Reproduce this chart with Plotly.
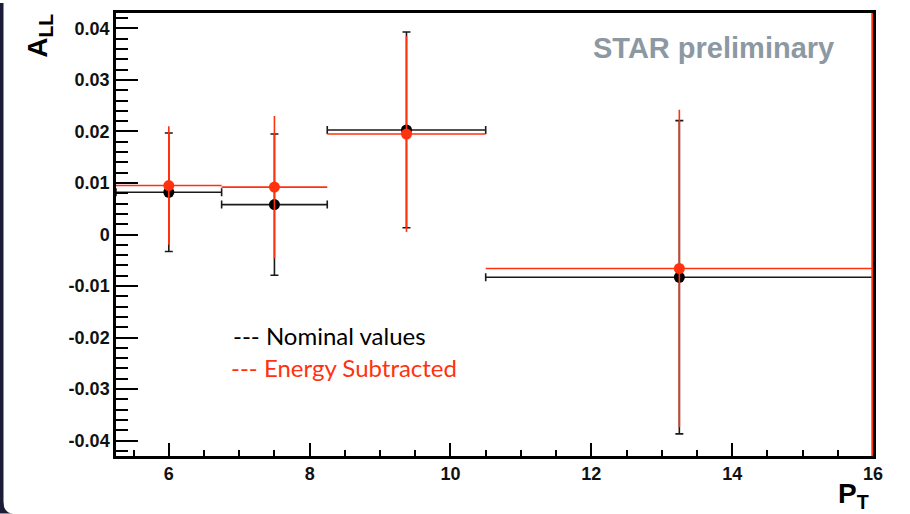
import plotly.graph_objects as go

# Bin centres and half-widths in P_T
pt = [6.0, 7.5, 9.375, 13.25]
pt_halfwidth = [0.75, 0.75, 1.125, 2.75]

# A_LL, nominal values
all_nominal = [0.0082, 0.0058, 0.0203, -0.0083]
err_nominal = [0.0115, 0.0137, 0.0190, 0.0304]

# A_LL, energy subtracted
all_esub = [0.0095, 0.0092, 0.0195, -0.0066]
err_esub = [0.0115, 0.0138, 0.0190, 0.0308]

x_tickvals = [6, 8, 10, 12, 14, 16]
x_ticktext = ["6", "8", "10", "12", "14", "16"]
y_tickvals = [-0.04, -0.03, -0.02, -0.01, 0, 0.01, 0.02, 0.03, 0.04]
y_ticktext = ["-0.04", "-0.03", "-0.02", "-0.01", "0", "0.01", "0.02", "0.03", "0.04"]

W, H = 910, 514
L, R, T, B = 116, 873, 10, 456
RED = "#ff3210"
BLACK = "#1a1a1a"
NAVY = "#1c1c38"


def px(x):
    return (x - L) / (R - L)


def py(y):
    return (B - y) / (B - T)


fig = go.Figure()

fig.add_trace(go.Scatter(
    x=pt, y=all_nominal, mode="markers",
    marker=dict(color="black", size=11),
    error_x=dict(type="data", array=pt_halfwidth, color=BLACK, thickness=1.6, width=4),
    error_y=dict(type="data", array=err_nominal, color=BLACK, thickness=1.6, width=4),
    name="Nominal values", showlegend=False,
))
fig.add_trace(go.Scatter(
    x=pt, y=all_esub, mode="markers",
    marker=dict(color=RED, size=11),
    error_x=dict(type="data", array=pt_halfwidth, color=RED, thickness=1.6, width=0),
    error_y=dict(type="data", array=err_esub, color=RED, thickness=1.6, width=0),
    name="Energy Subtracted", showlegend=False,
))

tickfont = dict(family="Liberation Sans, Arial", size=18, color="#111", weight="bold")

fig.update_xaxes(
    range=[5.25, 16], tickvals=x_tickvals, ticktext=x_ticktext,
    ticks="inside", ticklen=13, tickwidth=1.5, tickcolor="black",
    minor=dict(dtick=0.5, ticks="inside", ticklen=6, tickwidth=1.5, tickcolor="black"),
    showline=True, linecolor="black", linewidth=2.5, mirror=True,
    showgrid=False, zeroline=False, tickfont=tickfont,
)
fig.update_yaxes(
    range=[-0.043, 0.043], tickvals=y_tickvals, ticktext=y_ticktext,
    ticks="inside", ticklen=22, tickwidth=1.5, tickcolor="black",
    minor=dict(dtick=0.002, ticks="inside", ticklen=12, tickwidth=1.5, tickcolor="black"),
    showline=True, linecolor="black", linewidth=2.5, mirror=True,
    showgrid=False, zeroline=False, tickfont=tickfont,
)

shapes = [
    # red frame edge on the right side
    dict(type="line", xref="paper", yref="paper", x0=px(872.2), x1=px(872.2), y0=0, y1=1,
         line=dict(color=RED, width=1.8), layer="above"),
    # dark slide border with rounded lower-left corner
    dict(type="path", xref="paper", yref="paper", fillcolor=NAVY, line=dict(width=0),
         path=(f"M {px(0)},{py(0)} L {px(3.5)},{py(0)} L {px(3.5)},{py(502)} "
               f"Q {px(3.5)},{py(514)} {px(14)},{py(514)} L {px(0)},{py(514)} Z")),
]

annotations = [
    dict(text="STAR preliminary", x=px(836), y=py(45), xref="paper", yref="paper",
         xanchor="right", yanchor="middle", showarrow=False,
         font=dict(family="Liberation Sans, Arial", size=29, color="#8c98a2", weight="bold")),
    dict(text="--- Nominal values", x=px(231), y=py(335), xref="paper", yref="paper",
         xanchor="left", yanchor="middle", showarrow=False,
         font=dict(family="Lato", size=24, color="black")),
    dict(text="--- Energy Subtracted", x=px(229), y=py(367), xref="paper", yref="paper",
         xanchor="left", yanchor="middle", showarrow=False,
         font=dict(family="Lato", size=24, color=RED)),
    dict(text="A<sub>LL</sub>", x=px(40), y=py(33), xref="paper", yref="paper",
         xanchor="center", yanchor="middle", textangle=-90, showarrow=False,
         font=dict(family="Liberation Sans, Arial", size=28, color="black", weight="bold")),
    dict(text="P<sub>T</sub>", x=px(853), y=py(496), xref="paper", yref="paper",
         xanchor="center", yanchor="middle", showarrow=False,
         font=dict(family="Liberation Sans, Arial", size=28, color="black", weight="bold")),
]

fig.update_layout(
    width=W, height=H,
    margin=dict(l=L, r=W - R, t=T, b=H - B),
    paper_bgcolor="white", plot_bgcolor="white",
    shapes=shapes, annotations=annotations,
    showlegend=False,
)

fig.write_html("out.html")
